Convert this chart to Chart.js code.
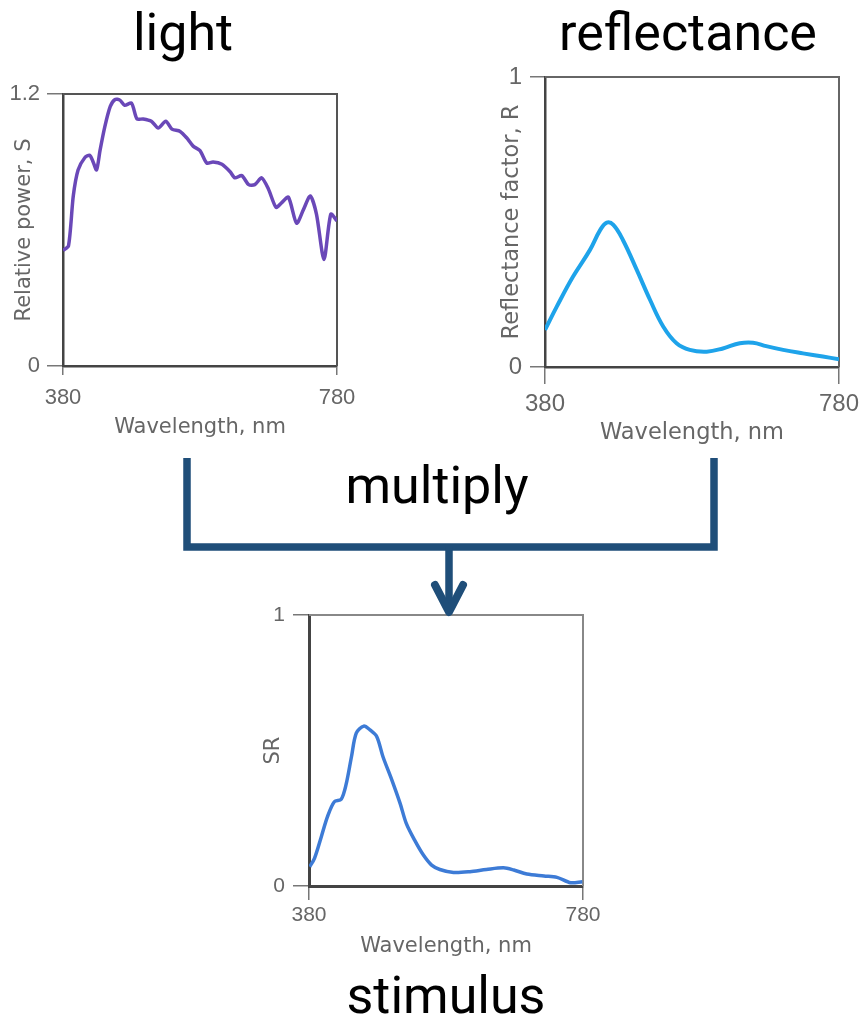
<!DOCTYPE html>
<html>
<head>
<meta charset="utf-8">
<script src="https://cdn.jsdelivr.net/npm/chart.js@4"></script>
<style>
  html, body { margin: 0; padding: 0; background: #fff; }
  #page { position: relative; width: 864px; height: 1024px; overflow: hidden; background: #fff; }
  canvas { position: absolute; }
  svg { position: absolute; left: 0; top: 0; pointer-events: none; }
</style>
</head>
<body>
<div id="page">
  <canvas id="c1" width="360" height="380" style="left:0px;top:70px;"></canvas>
  <canvas id="c2" width="374" height="390" style="left:490px;top:60px;"></canvas>
  <canvas id="c3" width="360" height="370" style="left:260px;top:600px;"></canvas>
  <svg width="864" height="1024" viewBox="0 0 864 1024">
    <g font-family="Roboto" font-size="52" fill="#000" text-anchor="middle">
      <text x="183" y="50">light</text>
      <text x="688" y="50">reflectance</text>
      <text x="437" y="503">multiply</text>
      <text x="446" y="1013">stimulus</text>
    </g>
    <g stroke="#1f4e79" fill="none">
      <path d="M187 458 V547 H714 V458" stroke-width="7.5" stroke-linejoin="miter"/>
      <path d="M449 547 V612" stroke-width="7.5"/>
      <path d="M435 585 L449 612 L463 585" stroke-width="8" stroke-linecap="round" stroke-linejoin="round"/>
    </g>
  </svg>
</div>
<script>
// ---- data ----
const xTickValues = [380, 780];
const xTickLabels = ['380', '780'];

const lightTickValues = [0, 1.2];
const lightTickLabels = ['0', '1.2'];
const lightWl = [380, 388, 395, 402, 412, 419, 424, 429, 434, 441, 449, 456, 463, 470, 480, 488, 497, 509, 519, 530, 539, 551, 561, 570, 580, 590, 599, 612, 624, 631, 641, 651, 660, 670, 680, 691, 699, 709, 721, 731, 741, 750, 761, 771, 780];
const lightS = [0.51, 0.53, 0.75, 0.865, 0.92, 0.93, 0.90, 0.865, 0.95, 1.055, 1.145, 1.176, 1.173, 1.15, 1.16, 1.09, 1.09, 1.08, 1.05, 1.08, 1.045, 1.035, 1.005, 0.97, 0.95, 0.895, 0.90, 0.89, 0.857, 0.83, 0.84, 0.80, 0.80, 0.83, 0.78, 0.70, 0.72, 0.745, 0.63, 0.69, 0.75, 0.67, 0.47, 0.67, 0.64];

const reflTickValues = [0, 1];
const reflTickLabels = ['0', '1'];
const reflWl = [380, 396, 418, 441, 455, 464, 473, 486, 505, 523, 541, 559, 577, 600, 622, 645, 663, 681, 704, 731, 758, 780];
const reflR = [0.128, 0.208, 0.311, 0.403, 0.472, 0.498, 0.49, 0.438, 0.334, 0.231, 0.139, 0.082, 0.059, 0.053, 0.064, 0.082, 0.084, 0.072, 0.059, 0.047, 0.036, 0.027];

const stimTickValues = [0, 1];
const stimTickLabels = ['0', '1'];
const stimWl = [381, 388, 398, 407, 417, 427, 434, 442, 449, 460, 469, 479, 488, 501, 513, 522, 534, 547, 559, 571, 591, 615, 639, 664, 679, 698, 723, 742, 762, 779];
const stimSR = [0.071, 0.102, 0.182, 0.256, 0.311, 0.320, 0.373, 0.477, 0.564, 0.590, 0.576, 0.551, 0.477, 0.391, 0.305, 0.231, 0.170, 0.114, 0.077, 0.061, 0.050, 0.053, 0.061, 0.067, 0.059, 0.044, 0.037, 0.032, 0.012, 0.016];

// ---- helpers ----
const frame = {
  id: 'frame',
  beforeDatasetsDraw(chart, args, opts) {
    const a = chart.chartArea, ctx = chart.ctx;
    ctx.save();
    ctx.strokeStyle = opts.color;
    ctx.lineWidth = opts.width;
    ctx.beginPath();
    ctx.moveTo(a.left, a.top);
    ctx.lineTo(a.right, a.top);
    ctx.lineTo(a.right, a.bottom);
    ctx.stroke();
    ctx.restore();
  }
};

function makeChart(id, cfg) {
  const pts = cfg.wl.map((w, i) => ({ x: w, y: cfg.vals[i] }));
  return new Chart(document.getElementById(id), {
    type: 'line',
    data: { datasets: [{ data: pts, borderColor: cfg.color, borderWidth: cfg.lw, pointRadius: 0, tension: cfg.tension, fill: false }] },
    plugins: [frame],
    options: {
      responsive: false,
      animation: false,
      events: [],
      layout: { padding: { left: 0, top: cfg.padTop, right: cfg.padRight, bottom: 0 } },
      plugins: { legend: { display: false }, tooltip: { enabled: false }, frame: { color: cfg.frameColor, width: cfg.frameWidth } },
      scales: {
        x: {
          type: 'linear', min: 380, max: 780,
          afterBuildTicks: s => { s.ticks = xTickValues.map(v => ({ value: v })); },
          afterFit: s => { s.height = cfg.xAxisH; s.paddingLeft = 0; s.paddingRight = 0; },
          grid: { drawOnChartArea: false, drawTicks: true, tickLength: cfg.xTickLen, color: '#777', lineWidth: 1.5 },
          border: { display: true, color: cfg.axisColor, width: cfg.axisWidth },
          ticks: { padding: cfg.xTickPad, color: '#666', font: { family: 'Liberation Sans', size: cfg.tickSize, lineHeight: 1 }, maxRotation: 0, autoSkip: false, callback: (v, i) => xTickLabels[i] },
          title: { display: true, text: 'Wavelength, nm', color: '#666', font: { family: 'DejaVu Sans', size: cfg.titleSize, lineHeight: 1 }, padding: { top: 0, bottom: cfg.xTitlePad } }
        },
        y: {
          type: 'linear', min: 0, max: cfg.ymax,
          afterBuildTicks: s => { s.ticks = cfg.yTicks.map(v => ({ value: v })); },
          afterFit: s => { s.width = cfg.yAxisW; s.paddingTop = 0; s.paddingBottom = 0; },
          grid: { drawOnChartArea: false, drawTicks: true, tickLength: cfg.yTickLen, color: '#777', lineWidth: 1.5 },
          border: { display: true, color: cfg.axisColor, width: cfg.axisWidth },
          ticks: { padding: cfg.yTickPad, color: '#666', font: { family: 'Liberation Sans', size: cfg.tickSize, lineHeight: 1 }, autoSkip: false, callback: (v, i) => cfg.yLabels[i] },
          title: { display: true, text: cfg.yTitle, color: '#666', font: { family: 'DejaVu Sans', size: cfg.titleSize, lineHeight: 1 }, padding: { top: cfg.yTitlePad, bottom: 0 } }
        }
      }
    }
  });
}

makeChart('c1', {
  wl: lightWl, vals: lightS, color: '#6a48b8', lw: 3.5, tension: 0.25,
  ymax: 1.2, yTicks: lightTickValues, yLabels: lightTickLabels, yTitle: 'Relative power, S',
  padTop: 24, padRight: 23, xAxisH: 84, yAxisW: 63,
  xTickLen: 9, xTickPad: 12, yTickLen: 16, yTickPad: 7,
  tickSize: 22, titleSize: 21, xTitlePad: 11.5, yTitlePad: 14.5,
  axisColor: '#444', axisWidth: 2.5, frameColor: '#555', frameWidth: 2
});

makeChart('c2', {
  wl: reflWl, vals: reflR, color: '#1ea3ea', lw: 4, tension: 0.4,
  ymax: 1, yTicks: reflTickValues, yLabels: reflTickLabels, yTitle: 'Reflectance factor, R',
  padTop: 17, padRight: 25, xAxisH: 83, yAxisW: 55,
  xTickLen: 17, xTickPad: 8, yTickLen: 15, yTickPad: 8,
  tickSize: 24, titleSize: 22.5, xTitlePad: 6, yTitlePad: 11,
  axisColor: '#444', axisWidth: 2.5, frameColor: '#666', frameWidth: 2
});

makeChart('c3', {
  wl: stimWl, vals: stimSR, color: '#3d7bd6', lw: 3.5, tension: 0.3,
  ymax: 1, yTicks: stimTickValues, yLabels: stimTickLabels, yTitle: 'SR',
  padTop: 15, padRight: 37, xAxisH: 84, yAxisW: 49,
  xTickLen: 14, xTickPad: 5, yTickLen: 16, yTickPad: 8,
  tickSize: 21, titleSize: 21, xTitlePad: 12.5, yTitlePad: 3.5,
  axisColor: '#444', axisWidth: 3, frameColor: '#888', frameWidth: 2
});
</script>
</body>
</html>
